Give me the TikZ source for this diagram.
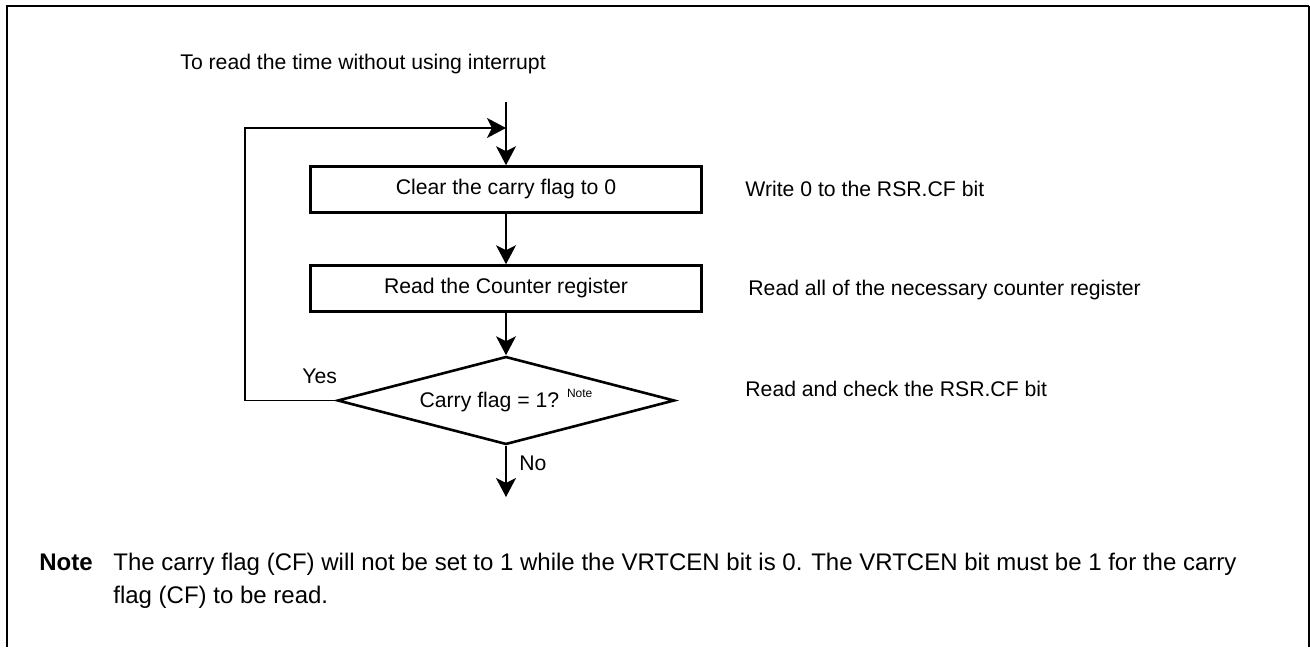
\documentclass[tikz,border=0pt]{standalone}
\usepackage{fontspec}
\setmainfont{Liberation Sans}
\usetikzlibrary{arrows.meta,shapes.geometric}
\begin{document}
\begin{tikzpicture}[x=0.5pt,y=-0.5pt,
  every node/.style={inner sep=0pt, font=\fontsize{10.6}{12.7}\selectfont},
  procbox/.style={draw, line width=1.3pt, minimum width=195.5pt, minimum height=23pt},
  decision/.style={draw, diamond, aspect=3.8, line width=1.3pt, minimum width=168.5pt, minimum height=44pt},
  flow/.style={line width=0.65pt, -{Stealth[length=9.5pt,width=10pt,inset=2.5pt]}},
  plainline/.style={line width=0.65pt},
  lbl/.style={anchor=base west},
  notefont/.style={font=\fontsize{12}{14}\selectfont}]
\useasboundingbox (0,0) rectangle (1310,647);
% frame
\draw[line width=1pt] (7,647) -- (7,6) -- (1309,6);
\draw[line width=0.65pt] (1309,6) -- (1309,647);

% title
\node[lbl] (title) at (180,70) {To read the time without using interrupt};

% flow nodes
\coordinate (start) at (506,102);
\coordinate (join) at (506,128);
\coordinate (fbc) at (245,128);
\coordinate (stop) at (506,497);
\node[procbox] (b1) at (506,189.5) {Clear the carry flag to 0};
\node[procbox] (b2) at (506,288.5) {Read the Counter register};
\node[decision] (d) at (506,400.5) {Carry flag = 1? \raisebox{5.3pt}{\fontsize{6}{7}\selectfont Note}};

% connectors
\draw[flow] (start) -- (b1.north);
\draw[flow] (b1.south) -- (b2.north);
\draw[flow] (b2.south) -- (d.north);
\draw[flow] (d.south) -- (stop);
\draw[flow] (d.west) -| (fbc) -- (join);

% labels
\node[lbl] (yes) at (302,383.3) {Yes};
\node[lbl] (no) at (519,470) {No};
\node[lbl] (c1) at (745,196) {Write 0 to the RSR.CF bit};
\node[lbl] (c2) at (748,295) {Read all of the necessary counter register};
\node[lbl] (c3) at (745,396.7) {Read and check the RSR.CF bit};

% note
\node[lbl, notefont] (notehead) at (39,570) {\textbf{Note}};
\node[lbl, notefont] (note1) at (113,570) {The carry flag (CF) will not be set to 1 while the VRTCEN bit is 0. The VRTCEN bit must be 1 for the carry};
\node[lbl, notefont] (note2) at (113,603) {flag (CF) to be read.};
\end{tikzpicture}
\end{document}
